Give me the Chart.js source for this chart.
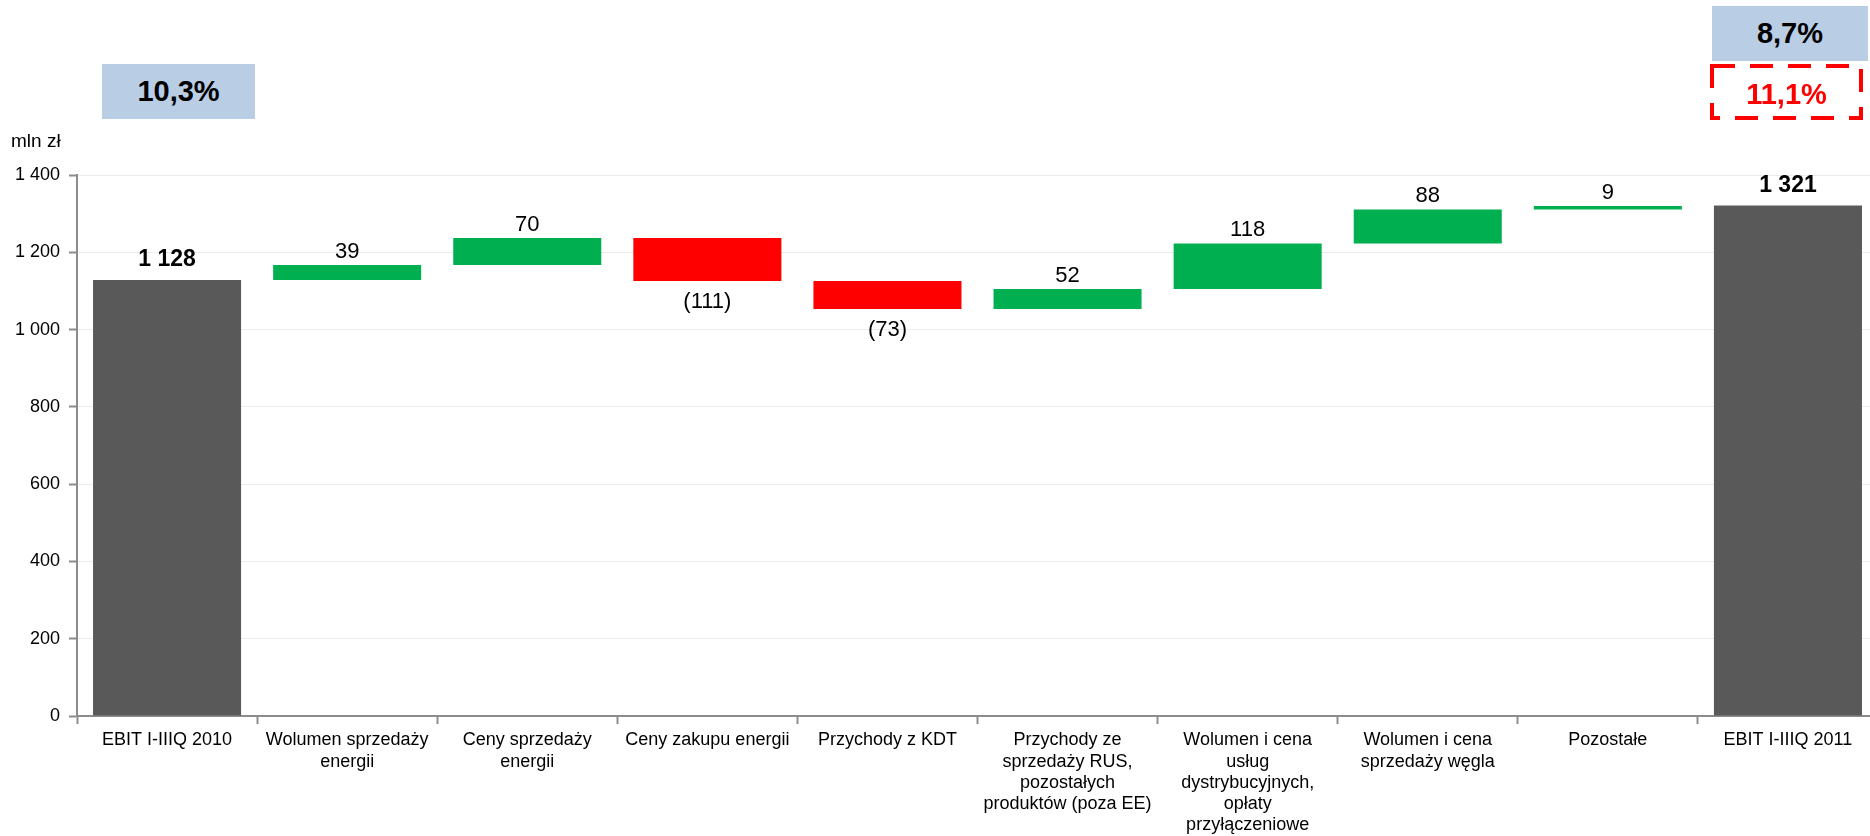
<!DOCTYPE html>
<html>
<head>
<meta charset="utf-8">
<script src="https://cdn.jsdelivr.net/npm/chart.js@4/dist/chart.umd.min.js"></script>
<style>
    html, body { margin: 0; padding: 0; background: #fff; overflow: hidden; }
    body { width: 1870px; height: 836px; position: relative; font-family: "Liberation Sans", Arial, sans-serif; }
    #wrap { position: absolute; left: 0; top: 0; width: 1878px; height: 836px; }
    .pct { position: absolute; display: flex; align-items: center; justify-content: center;
           font-weight: bold; font-size: 29px; color: #000; }
    .blue { background: #B9CDE5; }
    #unit { position: absolute; left: 11px; top: 130px; font-size: 19px; color: #000; }
    svg { position: absolute; left: 0; top: 0; }
</style>
</head>
<body>
<div id="wrap"><canvas id="ebitChart" width="1878" height="836"></canvas></div>

<div class="pct blue" style="left:102px; top:64px; width:153px; height:55px;">10,3%</div>
<div class="pct blue" style="left:1712px; top:6px; width:156px; height:55px;">8,7%</div>
<svg width="1870" height="140">
    <rect x="1712" y="66" width="149" height="52" fill="none" stroke="#FF0000" stroke-width="4" stroke-dasharray="23 15"></rect>
</svg>
<div class="pct" style="left:1712px; top:66px; width:149px; height:56px; color:#FF0000;">11,1%</div>
<div id="unit">mln zł</div>

<script>
// Waterfall data (mln zł)
const categories = [
    'EBIT I-IIIQ 2010',
    ['Wolumen sprzedaży', 'energii'],
    ['Ceny sprzedaży', 'energii'],
    'Ceny zakupu energii',
    'Przychody z KDT',
    ['Przychody ze', 'sprzedaży RUS,', 'pozostałych', 'produktów (poza EE)'],
    ['Wolumen i cena', 'usług', 'dystrybucyjnych,', 'opłaty', 'przyłączeniowe'],
    ['Wolumen i cena', 'sprzedaży węgla'],
    'Pozostałe',
    'EBIT I-IIIQ 2011'
];
const values = [1128, 39, 70, -111, -73, 52, 118, 88, 9, 1321];
const isTotal = [true, false, false, false, false, false, false, false, false, true];
const yMin = 0;
const yMax = 1400;
const yStep = 200;

const colTotal = '#595959';
const colUp = '#00B050';
const colDown = '#FF0000';

// build floating ranges from the deltas
let running = 0;
const ranges = values.map(function(v, i) {
    if (isTotal[i]) {
        running = v;
        return [0, v];
    }
    const start = running;
    running += v;
    return [Math.min(start, running), Math.max(start, running)];
});
const colors = values.map(function(v, i) {
    return isTotal[i] ? colTotal : (v >= 0 ? colUp : colDown);
});

function spaced(n) {
    return String(Math.abs(n)).replace(/\B(?=(\d{3})+(?!\d))/g, ' ');
}

// value labels above / below bars
const barLabels = {
    id: 'barLabels',
    afterDatasetsDraw(chart) {
        const ctx = chart.ctx;
        const meta = chart.getDatasetMeta(0);
        ctx.save();
        ctx.textAlign = 'center';
        ctx.textBaseline = 'alphabetic';
        ctx.fillStyle = '#000';
        meta.data.forEach(function(bar, i) {
            const top = Math.min(bar.y, bar.base);
            const bottom = Math.max(bar.y, bar.base);
            const v = values[i];
            if (isTotal[i]) {
                ctx.font = 'bold 23px "Liberation Sans", Arial, sans-serif';
                ctx.fillText(spaced(v), bar.x, top - 14);
            } else if (v >= 0) {
                ctx.font = '22px "Liberation Sans", Arial, sans-serif';
                ctx.fillText(spaced(v), bar.x, top - 7);
            } else {
                ctx.font = '22px "Liberation Sans", Arial, sans-serif';
                ctx.fillText('(' + spaced(v) + ')', bar.x, bottom + 27);
            }
        });
        ctx.restore();
    }
};

new Chart(document.getElementById('ebitChart').getContext('2d'), {
    type: 'bar',
    data: {
        labels: categories,
        datasets: [{
            data: ranges,
            backgroundColor: colors,
            borderWidth: 0,
            barPercentage: 1,
            categoryPercentage: 0.822
        }]
    },
    options: {
        responsive: false,
        animation: false,
        layout: { padding: { top: 175, left: 0, right: 0, bottom: 0 } },
        plugins: {
            legend: { display: false },
            tooltip: { enabled: false }
        },
        scales: {
            x: {
                afterFit: function(scale) { scale.height = 120; },
                grid: {
                    offset: true,
                    drawOnChartArea: false,
                    drawTicks: true,
                    tickLength: 8,
                    tickColor: '#8C8C8C',
                    tickWidth: 2
                },
                border: { color: '#8C8C8C', width: 2 },
                ticks: {
                    autoSkip: false,
                    maxRotation: 0,
                    minRotation: 0,
                    padding: 6,
                    color: '#000',
                    font: { family: '"Liberation Sans", Arial, sans-serif', size: 18, lineHeight: 1.17 }
                }
            },
            y: {
                min: yMin,
                max: yMax,
                afterFit: function(scale) { scale.width = 77; },
                grid: {
                    color: '#EBEBEB',
                    lineWidth: 1,
                    drawTicks: true,
                    tickLength: 8,
                    tickColor: '#8C8C8C',
                    tickWidth: 2
                },
                border: { color: '#8C8C8C', width: 2 },
                ticks: {
                    stepSize: yStep,
                    padding: 9,
                    color: '#000',
                    font: { family: '"Liberation Sans", Arial, sans-serif', size: 18 },
                    callback: function(v) { return spaced(v); }
                }
            }
        }
    },
    plugins: [barLabels]
});
</script>
</body>
</html>
